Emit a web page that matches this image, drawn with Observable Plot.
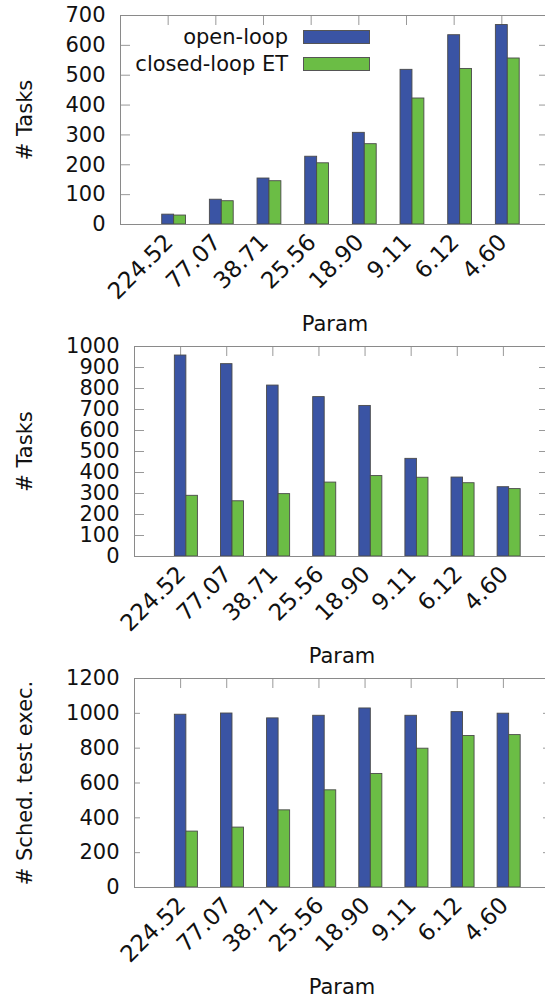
<!DOCTYPE html>
<html>
<head>
<meta charset="utf-8">
<script src="https://cdn.jsdelivr.net/npm/d3@7"></script>
<script src="https://cdn.jsdelivr.net/npm/@observablehq/plot@0.6"></script>
<style>
  html, body { margin: 0; padding: 0; background: #fff; overflow: hidden; }
  svg { max-width: none !important; display: block; }
  #charts { width: 545px; overflow: hidden; }
  .panel { position: relative; }
  .legend { position: absolute; left: 0; top: 0; font-family: "DejaVu Sans", sans-serif; font-size: 21px; color: #111; }
  .legend .row { position: absolute; left: 0; width: 370px; height: 26px; }
  .legend .lab { position: absolute; right: 82px; top: 0; line-height: 26px; white-space: nowrap; }
  .legend .sw { position: absolute; left: 303px; top: 6px; width: 65px; height: 12px; border: 1px solid #555; }
</style>
</head>
<body>
<div id="charts"></div>
<script>
// Parameter values on the x axis, in plotting order
const categories = ["224.52", "77.07", "38.71", "25.56", "18.90", "9.11", "6.12", "4.60"];
const series = ["open-loop", "closed-loop ET"];
const colors = ["#3a54a4", "#6bbd45"];

// Top panel: # Tasks
const tasksOpenA = [33, 83, 154, 227, 307, 518, 634, 668];
const tasksClosedA = [30, 78, 145, 205, 269, 422, 521, 556];

// Middle panel: # Tasks
const tasksOpenB = [957, 916, 814, 759, 717, 465, 376, 330];
const tasksClosedB = [289, 263, 297, 352, 383, 375, 349, 321];

// Bottom panel: # Sched. test exec.
const schedOpen = [992, 999, 971, 986, 1028, 986, 1007, 998];
const schedClosed = [321, 344, 443, 558, 652, 797, 870, 875];

const W = 551;          // slightly wider than the page, the right border sits just past the edge
const FONT = "DejaVu Sans, sans-serif";
const BAR = 0.25;       // bar width in category units

function panel({open, closed, yMax, yStep, yLabel, height, marginTop, marginBottom, marginLeft, yTickLen, xTickLen}) {
  const rows = categories.flatMap((c, i) => [
    {i, k: 0, series: series[0], value: open[i]},
    {i, k: 1, series: series[1], value: closed[i]}
  ]);
  const idx = categories.map((c, i) => i);
  const yTicks = d3.range(0, yMax + 1, yStep);
  const fw = W - marginLeft - 2;
  const fh = height - marginTop - marginBottom;
  return Plot.plot({
    width: W,
    height,
    marginTop,
    marginBottom,
    marginLeft,
    marginRight: 2,
    x: {domain: [-1, 8], axis: null},
    y: {domain: [0, yMax], axis: null},
    color: {domain: series, range: colors},
    style: {fontFamily: FONT, fontSize: "21px", color: "#111", background: "#fff"},
    marks: [
      // inward ticks on all four sides
      Plot.tickY(yTicks, {y: d => d, stroke: "#999", insetRight: fw - yTickLen}),
      Plot.tickY(yTicks, {y: d => d, stroke: "#999", insetLeft: fw - yTickLen}),
      Plot.tickX(idx, {x: d => d, stroke: "#999", insetBottom: fh - xTickLen}),
      Plot.tickX(idx, {x: d => d, stroke: "#999", insetTop: fh - xTickLen}),
      // clustered bars
      Plot.rect(rows, {
        x1: d => d.i - BAR / 2 + d.k * BAR,
        x2: d => d.i + BAR / 2 + d.k * BAR,
        y1: 0,
        y2: "value",
        fill: "series",
        stroke: "#4a4a4a",
        strokeWidth: 0.9
      }),
      Plot.frame({stroke: "#8a8a8a"}),
      // y tick labels
      Plot.text(yTicks, {y: d => d, text: d => String(d), frameAnchor: "left", textAnchor: "end", dx: -15, fontSize: 21}),
      // rotated x tick labels
      Plot.text(categories, {
        x: (d, i) => i,
        frameAnchor: "bottom",
        rotate: -45,
        textAnchor: "end",
        lineAnchor: "middle",
        dx: 1,
        dy: 14,
        fontSize: 23
      }),
      // axis titles
      Plot.text(["Param"], {frameAnchor: "bottom", lineAnchor: "bottom", dy: 106, fontSize: 21}),
      Plot.text([yLabel], {frameAnchor: "left", textAnchor: "middle", rotate: -90, dx: -(marginLeft - 25), fontSize: 21})
    ]
  });
}

const root = document.getElementById("charts");

const p1 = document.createElement("div");
p1.className = "panel";
p1.appendChild(panel({
  open: tasksOpenA, closed: tasksClosedA, yMax: 700, yStep: 100, yLabel: "# Tasks",
  height: 334, marginTop: 15, marginBottom: 110, marginLeft: 120, yTickLen: 10, xTickLen: 10
}));

// legend inside the top panel
const legend = document.createElement("div");
legend.className = "legend";
series.forEach((s, j) => {
  const row = document.createElement("div");
  row.className = "row";
  row.style.top = (24 + j * 26.7) + "px";
  const lab = document.createElement("span");
  lab.className = "lab";
  lab.textContent = s;
  const sw = document.createElement("span");
  sw.className = "sw";
  sw.style.background = colors[j];
  row.appendChild(lab);
  row.appendChild(sw);
  legend.appendChild(row);
});
p1.appendChild(legend);
root.appendChild(p1);

const p2 = document.createElement("div");
p2.className = "panel";
p2.appendChild(panel({
  open: tasksOpenB, closed: tasksClosedB, yMax: 1000, yStep: 100, yLabel: "# Tasks",
  height: 332, marginTop: 12, marginBottom: 110, marginLeft: 134, yTickLen: 10, xTickLen: 10
}));
root.appendChild(p2);

const p3 = document.createElement("div");
p3.className = "panel";
p3.appendChild(panel({
  open: schedOpen, closed: schedClosed, yMax: 1200, yStep: 200, yLabel: "# Sched. test exec.",
  height: 332, marginTop: 12, marginBottom: 111, marginLeft: 134, yTickLen: 6, xTickLen: 10
}));
root.appendChild(p3);
</script>
</body>
</html>
